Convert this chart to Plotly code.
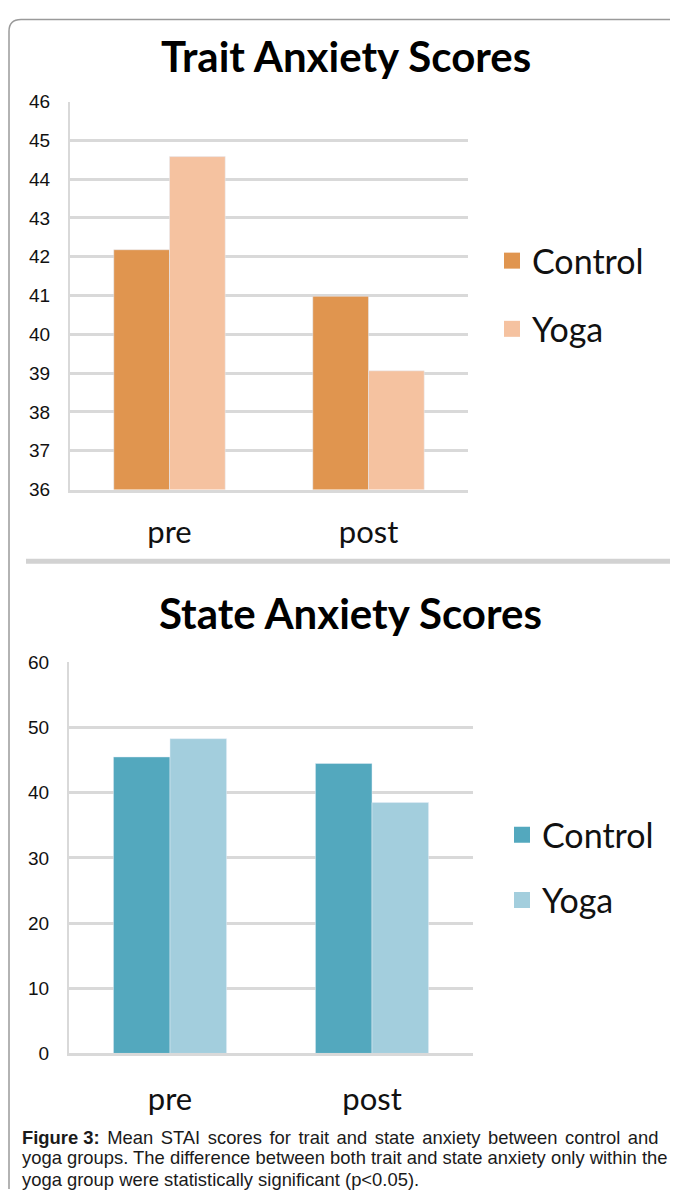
import plotly.graph_objects as go

# page body has an 8px margin; the figure is placed inside it
OFF = 8
W, H = 670, 1192

categories = ["pre", "post"]
trait_control = [42.18, 40.98]
trait_yoga = [44.58, 39.06]
state_control = [45.5, 44.5]
state_yoga = [48.3, 38.5]
trait_ticks = list(range(36, 47))
state_ticks = list(range(0, 61, 10))
series_names = ["Control", "Yoga"]

orange_dark = "#E0954F"
orange_light = "#F5C2A0"
teal_dark = "#53A8BE"
teal_light = "#A3CEDD"


def px_x(x):
    return (x - OFF) / W


def px_y(y):
    return 1 - (y - OFF) / H


fig = go.Figure()

fig.add_trace(go.Bar(x=categories, y=trait_control, name=series_names[0], marker_color=orange_dark,
                     xaxis="x", yaxis="y", showlegend=False))
fig.add_trace(go.Bar(x=categories, y=trait_yoga, name=series_names[1], marker_color=orange_light,
                     xaxis="x", yaxis="y", showlegend=False))
fig.add_trace(go.Bar(x=categories, y=state_control, name=series_names[0], marker_color=teal_dark,
                     xaxis="x2", yaxis="y2", showlegend=False))
fig.add_trace(go.Bar(x=categories, y=state_yoga, name=series_names[1], marker_color=teal_light,
                     xaxis="x2", yaxis="y2", showlegend=False))

# legend entries
for nm, col, lg in [(series_names[0], orange_dark, "legend"), (series_names[1], orange_light, "legend"),
                    (series_names[0], teal_dark, "legend2"), (series_names[1], teal_light, "legend2")]:
    fig.add_trace(go.Scatter(x=[None], y=[None], mode="markers", name=nm,
                             marker=dict(symbol="square", size=18, color=col),
                             legend=lg, legendgroup=nm + lg, showlegend=True,
                             xaxis="x" if lg == "legend" else "x2",
                             yaxis="y" if lg == "legend" else "y2"))

grid_col = "#D9D9D9"
tickfont = dict(family="Liberation Sans, Arial", size=19, color="#111")
catfont = dict(family="Lato, Open Sans", size=31, color="#111")
legfont = dict(family="Lato, Open Sans", size=34, color="#111")

fig.update_layout(
    width=W, height=H,
    margin=dict(l=0, r=0, t=0, b=0),
    paper_bgcolor="white", plot_bgcolor="white",
    barmode="group", bargap=0.44, bargroupgap=0.0,
    xaxis=dict(domain=[px_x(70), px_x(468)], anchor="y", showgrid=False,
               tickfont=catfont, ticks="", ticklabelstandoff=13,
               showline=True, linecolor=grid_col, linewidth=3),
    yaxis=dict(domain=[px_y(488), px_y(93)], anchor="x", range=[36, 46],
               tickvals=trait_ticks, showgrid=True, gridcolor=grid_col, gridwidth=3,
               tickfont=tickfont, ticks="", ticklabelstandoff=14,
               showline=True, linecolor=grid_col, linewidth=2, zeroline=False),
    xaxis2=dict(domain=[px_x(69), px_x(473)], anchor="y2", showgrid=False,
                tickfont=catfont, ticks="", ticklabelstandoff=16,
                showline=True, linecolor=grid_col, linewidth=3),
    yaxis2=dict(domain=[px_y(1062), px_y(664)], anchor="x2", range=[0, 60],
                tickvals=state_ticks, showgrid=True, gridcolor=grid_col, gridwidth=3,
                tickfont=tickfont, ticks="", ticklabelstandoff=14,
                showline=True, linecolor=grid_col, linewidth=2, zeroline=False),
    legend=dict(x=px_x(492), y=px_y(290), xanchor="left", yanchor="middle",
                font=legfont, tracegroupgap=21, bgcolor="rgba(0,0,0,0)"),
    legend2=dict(x=px_x(502), y=px_y(873), xanchor="left", yanchor="middle",
                 font=legfont, tracegroupgap=18, bgcolor="rgba(0,0,0,0)"),
)

# titles
fig.add_annotation(text="<b>Trait Anxiety Scores</b>", x=px_x(346), y=px_y(47), xref="paper", yref="paper",
                   showarrow=False, xanchor="center", yanchor="middle",
                   font=dict(family="Lato, Open Sans", size=42, color="#000"))
fig.add_annotation(text="<b>State Anxiety Scores</b>", x=px_x(350), y=px_y(614), xref="paper", yref="paper",
                   showarrow=False, xanchor="center", yanchor="middle",
                   font=dict(family="Lato, Open Sans", size=42, color="#000"))

# caption (first line justified by widening its word spaces)
wide_space = '<span style="font-size:27px"> </span>'
caption_lines = [
    "<b>Figure 3:</b>" + wide_space + wide_space.join(
        "Mean STAI scores for trait and state anxiety between control and".split(" ")),
    "yoga groups. The difference between both trait and state anxiety only within the",
    "yoga group were statistically significant (p<0.05).",
]
for i, line in enumerate(caption_lines):
    fig.add_annotation(text=line, x=px_x(20), y=px_y(1145 + 22.5 * i), xref="paper", yref="paper",
                       showarrow=False, xanchor="left", yanchor="middle",
                       font=dict(family="Liberation Sans, Arial", size=18.4, color="#1a1a1a"))

# frame
r = 12
x0, y0 = px_x(9), px_y(9.5)
path = (f"M {x0},0 L {x0},{px_y(9.5 + r)} Q {x0},{y0} {px_x(9 + r)},{y0} L 1,{y0}")
fig.add_shape(type="path", path=path, xref="paper", yref="paper",
              line=dict(color="#9a9a9a", width=1.5))
# separator
fig.add_shape(type="line", x0=px_x(26), x1=1, y0=px_y(561), y1=px_y(561), xref="paper", yref="paper",
              line=dict(color="#D2D2D2", width=5))

fig.write_html("out.html")
